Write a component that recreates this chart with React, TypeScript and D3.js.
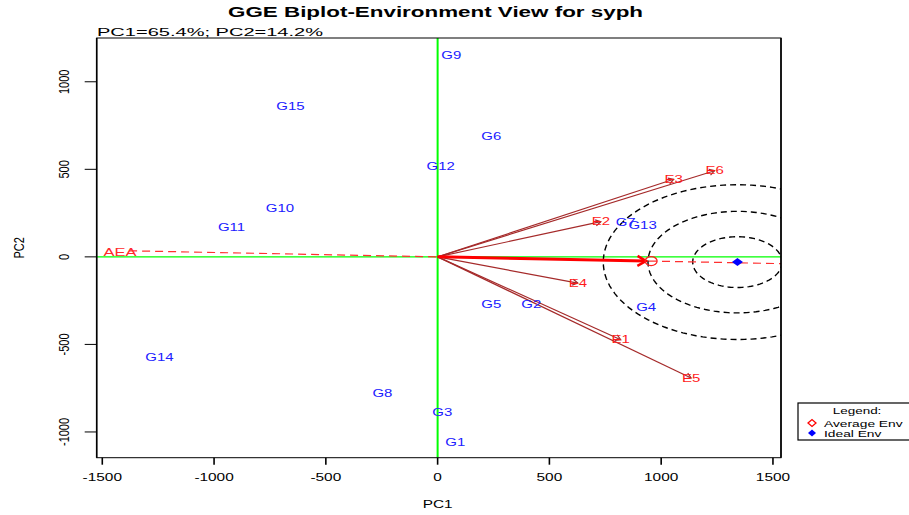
import React, { useEffect } from "react";
import * as d3 from "d3";

// ---- data ----
const genotypes = ["G1", "G2", "G3", "G4", "G5", "G6", "G7", "G8", "G9", "G10", "G11", "G12", "G13", "G14", "G15"];
const genoPC1 = [79, 419, 21, 933, 240, 240, 841, -247, 61, -705, -922, 14, 917, -1244, -658];
const genoPC2 = [-1059, -274, -888, -291, -274, 686, 196, -781, 1152, 279, 171, 515, 182, -576, 858];

const environments = ["E1", "E2", "E3", "E4", "E5", "E6"];
const envPC1 = [819, 730, 1056, 627, 1134, 1239];
const envPC2 = [-473, 201, 443, -150, -692, 492];

const avgEnvPC1 = 955;
const avgEnvPC2 = -24;
const idealPC1 = 1341;
const idealPC2 = -30;
const ringRadiiPC1 = [200, 400, 600];
const ringRadiiPC2 = [145, 290, 442];

const xTicks = [-1500, -1000, -500, 0, 500, 1000, 1500];
const yTicks = [-1000, -500, 0, 500, 1000];
const xDomain = [-1525, 1536];
const yDomain = [-1147, 1250];

const titleText = "GGE Biplot-Environment View for syph";
const subtitleText = "PC1=65.4%; PC2=14.2%";
const legendTitle = "Legend:";
const legendItems = ["Average Env", "Ideal Env"];

const FONT = "'Liberation Sans', Arial, Helvetica, sans-serif";
const W = 909;
const H = 515;
const L = 96.7, R = 781, T = 38, B = 457.7;

function Txt(props: any) {
  const { x, y, children, size = 10, sx = 1.45, fill = "#000", anchor = "middle", rotate = 0, weight = "normal", dy = "0" } = props;
  return (
    <g transform={`translate(${x},${y}) scale(${sx},1)${rotate ? ` rotate(${rotate})` : ""}`}>
      <text textAnchor={anchor} fontSize={size} fill={fill} fontWeight={weight} fontFamily={FONT} dy={dy}>
        {children}
      </text>
    </g>
  );
}

function arrowHead(x0: number, y0: number, x1: number, y1: number, len: number) {
  const a = Math.atan2(y1 - y0, x1 - x0);
  const a1 = a + Math.PI - Math.PI / 6;
  const a2 = a + Math.PI + Math.PI / 6;
  return `M${x1 + len * Math.cos(a1)},${y1 + len * Math.sin(a1)}L${x1},${y1}L${x1 + len * Math.cos(a2)},${y1 + len * Math.sin(a2)}`;
}

export default function App() {
  useEffect(() => {
    document.body.style.margin = "0";
  }, []);

  const x = d3.scaleLinear().domain(xDomain).range([L, R]);
  const y = d3.scaleLinear().domain(yDomain).range([B, T]);
  const x0 = x(0), y0 = y(0);
  const slope = avgEnvPC2 / avgEnvPC1;
  const aeaStart = -1380;
  const ellipsePath = (rx: number, ry: number) => {
    const cx = x(idealPC1), cy = y(idealPC2);
    const pts = d3.range(0, 361, 3).map((d) => {
      const t = (d * Math.PI) / 180;
      return [cx + rx * Math.cos(t), cy + ry * Math.sin(t)] as [number, number];
    });
    return d3.line()(pts) || "";
  };
  const ax = x(avgEnvPC1), ay = y(avgEnvPC2);

  return (
    <svg width={W} height={H} style={{ display: "block", background: "#fff" }}>
      <defs>
        <clipPath id="plotclip">
          <rect x={L} y={T} width={R - L} height={B - T} />
        </clipPath>
      </defs>
      <rect width={W} height={H} fill="#fff" />

      {/* title */}
      <text x={228} y={17.3} fontSize={14} fontWeight="bold" fontFamily={FONT} textLength={415} lengthAdjust="spacingAndGlyphs" fill="#000">
        {titleText}
      </text>
      <text x={97} y={35.6} fontSize={10.5} fontFamily={FONT} textLength={226} lengthAdjust="spacingAndGlyphs" fill="#000">
        {subtitleText}
      </text>

      <g clipPath="url(#plotclip)">
        {/* green axes */}
        <line x1={L} x2={R} y1={y0} y2={y0} stroke="#00ff00" strokeWidth={1.3} />
        <line x1={x0} x2={x0} y1={T} y2={B} stroke="#00ff00" strokeWidth={2} />

        {/* concentric rings */}
        {ringRadiiPC1.map((r, i) => (
          <path
            key={"ring" + i}
            d={ellipsePath(x(r) - x(0), y(0) - y(ringRadiiPC2[i]))}
            fill="none"
            stroke="#000"
            strokeWidth={1.4}
            strokeDasharray="6,4"
          />
        ))}

        {/* average environment axis */}
        <line
          x1={x(aeaStart)}
          y1={y(aeaStart * slope)}
          x2={x(xDomain[1])}
          y2={y(xDomain[1] * slope)}
          stroke="#ff3030"
          strokeWidth={1.2}
          strokeDasharray="8,5"
        />

        {/* environment vectors */}
        {environments.map((e, i) => {
          const ex = x(envPC1[i]), ey = y(envPC2[i]);
          return (
            <g key={e}>
              <line x1={x0} y1={y0} x2={ex} y2={ey} stroke="#a52a2a" strokeWidth={1.2} />
              <path d={arrowHead(x0, y0, ex, ey, 6)} fill="none" stroke="#a52a2a" strokeWidth={1.2} />
            </g>
          );
        })}

        {/* average env arrow */}
        <line x1={x0} y1={y0} x2={ax - 6} y2={ay} stroke="#ff0000" strokeWidth={3} />
        <path d={arrowHead(x0, y0, ax - 5, ay, 10)} fill="none" stroke="#ff0000" strokeWidth={2.5} />
        <ellipse cx={ax} cy={ay} rx={6} ry={4.5} fill="none" stroke="#ff2020" strokeWidth={1.3} />

        {/* ideal env */}
        <path
          d={`M${x(idealPC1) - 5.5},${y(idealPC2)}L${x(idealPC1)},${y(idealPC2) - 4}L${x(idealPC1) + 5.5},${y(idealPC2)}L${x(idealPC1)},${y(idealPC2) + 4}Z`}
          fill="#0000ff"
        />
      </g>

      {/* AEA label */}
      <Txt x={x(-1421)} y={y(-1421 * slope) + 2} size={11} sx={1.5} fill="#ff2a2a" dy="0.35em">AEA</Txt>

      {/* genotype labels */}
      {genotypes.map((g, i) => (
        <Txt key={g} x={x(genoPC1[i])} y={y(genoPC2[i])} size={10} sx={1.5} fill="#2020ff" dy="0.36em">
          {g}
        </Txt>
      ))}

      {/* environment labels */}
      {environments.map((e, i) => (
        <Txt key={e + "l"} x={x(envPC1[i])} y={y(envPC2[i])} size={10} sx={1.5} fill="#ff1a1a" dy="0.36em">
          {e}
        </Txt>
      ))}

      {/* frame */}
      <rect x={L} y={T} width={R - L} height={B - T} fill="none" stroke="#000" strokeWidth={1} />
      <line x1={L} x2={L} y1={T} y2={B} stroke="#000" strokeWidth={1.6} />
      <line x1={R} x2={R} y1={T} y2={B} stroke="#000" strokeWidth={1.6} />

      {/* x axis */}
      {xTicks.map((t) => (
        <g key={"xt" + t}>
          <line x1={x(t)} x2={x(t)} y1={B} y2={B + 7} stroke="#000" strokeWidth={1.6} />
          <Txt x={x(t)} y={481} size={11} sx={1.4}>
            {String(t)}
          </Txt>
        </g>
      ))}
      <Txt x={x(0)} y={507.5} size={11} sx={1.4}>PC1</Txt>

      {/* y axis */}
      {yTicks.map((t) => (
        <g key={"yt" + t}>
          <line x1={L - 12} x2={L} y1={y(t)} y2={y(t)} stroke="#000" strokeWidth={1} />
          <Txt x={68.5} y={y(t)} size={11} sx={1.4} rotate={-90}>
            {String(t)}
          </Txt>
        </g>
      ))}
      <Txt x={24} y={(T + B) / 2} size={11} sx={1.4} rotate={-90}>PC2</Txt>

      {/* legend */}
      <rect x={798} y={403} width={120} height={37} fill="#fff" stroke="#000" strokeWidth={1.2} />
      <Txt x={857} y={413.5} size={9.3} sx={1.45}>{legendTitle}</Txt>
      <path d="M808,423L812,419.5L816,423L812,426.5Z" fill="none" stroke="#ff0000" strokeWidth={1.3} />
      <Txt x={824} y={426.5} size={9.5} sx={1.45} anchor="start">{legendItems[0]}</Txt>
      <path d="M808,433L812,429.5L816,433L812,436.5Z" fill="#0000ff" />
      <Txt x={824} y={436.5} size={9.5} sx={1.45} anchor="start">{legendItems[1]}</Txt>
    </svg>
  );
}
